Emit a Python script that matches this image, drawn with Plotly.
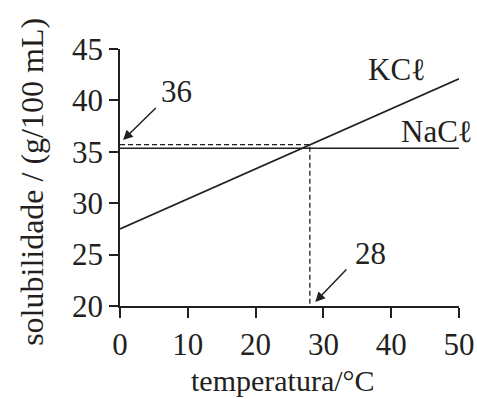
import plotly.graph_objects as go

temperature = [0, 50]
kcl_solubility = [27.5, 42.1]
nacl_temperature = [0, 50.3]
nacl_solubility = [35.35, 35.35]
cross_temperature = 28
cross_solubility = 35.7

x_ticks = [0, 10, 20, 30, 40, 50]
y_ticks = [20, 25, 30, 35, 40, 45]

FONT = "Liberation Serif, Times New Roman, serif"
INK = "#231f20"

fig = go.Figure()
fig.add_trace(go.Scatter(x=temperature, y=kcl_solubility, mode="lines",
                         line=dict(color=INK, width=1.6), cliponaxis=False, showlegend=False))
fig.add_trace(go.Scatter(x=nacl_temperature, y=nacl_solubility, mode="lines",
                         line=dict(color=INK, width=1.6), cliponaxis=False, showlegend=False))
fig.add_trace(go.Scatter(x=[0, cross_temperature, cross_temperature],
                         y=[cross_solubility, cross_solubility, 20], mode="lines",
                         line=dict(color=INK, width=1.3, dash="5px,3px"),
                         cliponaxis=False, showlegend=False))

ann = []
ann.append(dict(x=8.3, y=40.9, text="36", showarrow=False))
ann.append(dict(x=36.9, y=25.1, text="28", showarrow=False))
ann.append(dict(x=40.9, y=43.0, text="KCℓ", showarrow=False))
ann.append(dict(x=46.8, y=37.0, text="NaCℓ", showarrow=False))
for a in ann:
    a.update(xref="x", yref="y", font=dict(family=FONT, size=31, color=INK))
arrows = [
    dict(x=0.45, y=36.15, ax=5.5, ay=39.4),
    dict(x=28.8, y=20.4, ax=33.6, ay=23.7),
]
for a in arrows:
    a.update(xref="x", yref="y", axref="x", ayref="y", text="", showarrow=True,
             arrowhead=2, arrowsize=1.3, arrowwidth=1.5, arrowcolor=INK)
    ann.append(a)

# axis titles
ann.append(dict(xref="paper", yref="paper", x=0.48, y=-0.29, xanchor="center",
                yanchor="middle", text="temperatura/°C", showarrow=False,
                font=dict(family=FONT, size=30, color=INK)))
ann.append(dict(xref="paper", yref="paper", x=-0.26, y=0.4825, xanchor="center",
                yanchor="middle", text="solubilidade / (g/100 mL)", textangle=-90,
                showarrow=False, font=dict(family=FONT, size=32, color=INK)))

fig.update_layout(
    width=477, height=399,
    margin=dict(l=120, r=18, t=49, b=93),
    paper_bgcolor="white", plot_bgcolor="white",
    font=dict(family=FONT, size=32, color=INK),
    annotations=ann,
    xaxis=dict(range=[0, 50], tickvals=x_ticks, ticks="outside", ticklen=10,
               tickwidth=1.5, tickcolor=INK, showline=True, linecolor=INK, linewidth=1.6,
               showgrid=False, zeroline=False, automargin=False,
               tickfont=dict(family=FONT, size=31, color=INK)),
    yaxis=dict(range=[20, 45], tickvals=y_ticks, ticks="outside", ticklen=9,
               tickwidth=1.5, tickcolor=INK, showline=True, linecolor=INK, linewidth=1.6,
               showgrid=False, zeroline=False, automargin=False,
               tickfont=dict(family=FONT, size=31, color=INK)),
)

fig.write_html("out.html", config={"displayModeBar": False},
               post_script="document.body.style.margin='0';document.body.style.overflow='hidden';")
